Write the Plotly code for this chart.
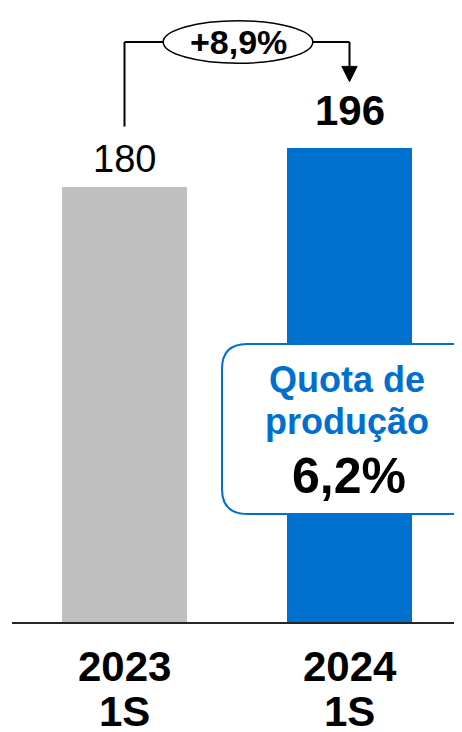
"""Quota de produção - 1S 2023 vs 1S 2024 bar chart."""

import plotly.graph_objects as go

years = ['2023', '2024']
periods = ['1S', '1S']
values = [180, 196]
value_labels = ['180', '196']
growth_label = '+8,9%'
box_title = ['Quota de', 'produção']
box_value = '6,2%'

FONT = 'Liberation Sans, Arial, sans-serif'
GREY = '#BFBFBF'
BLUE = '#0070CE'

# the page body adds an 8px margin, so the figure is drawn 8px smaller
OFF = 8
W, H = 462 - OFF, 732 - OFF
L, R, T, B = 4, 0, 0, 110
PXU = 2.4167                      # pixels per unit on the value axis
YMAX = (H - T - B) / PXU

x_idx = list(range(len(years)))
pw, ph = W - L - R, H - T - B


def px(x):
    # page pixel x -> paper x
    return (x - OFF - L) / pw


def py(y):
    # page pixel y -> paper y
    return (ph - (y - OFF - T)) / ph


def label(x, y, text, size, color='black', xref='paper'):
    fig.add_annotation(x=x, y=y, xref=xref, yref='paper', text=text,
                       showarrow=False, xanchor='center', yanchor='middle',
                       font=dict(family=FONT, size=size, color=color))


fig = go.Figure()
fig.add_trace(go.Bar(
    x=x_idx, y=values,
    marker_color=[GREY, BLUE], marker_line_width=0,
    width=0.556, showlegend=False, hoverinfo='skip'
))

# value labels above the bars
fig.add_annotation(x=0, y=values[0], text=value_labels[0], showarrow=False,
                   yanchor='bottom', yshift=5,
                   font=dict(family=FONT, size=38, color='black'))
fig.add_annotation(x=1, y=values[1], text='<b>' + value_labels[1] + '</b>', showarrow=False,
                   yanchor='bottom', yshift=12,
                   font=dict(family=FONT, size=42, color='black'))

# growth bracket
y_top = 240
fig.add_shape(type='line', x0=0, x1=0, y0=values[0] + 25, y1=y_top,
              line=dict(color='black', width=2))
fig.add_shape(type='line', x0=0, x1=0.172, y0=y_top, y1=y_top,
              line=dict(color='black', width=2))
fig.add_shape(type='line', x0=0.837, x1=1, y0=y_top, y1=y_top,
              line=dict(color='black', width=2))
fig.add_shape(type='line', x0=1, x1=1, y0=y_top, y1=values[1] + 31,
              line=dict(color='black', width=2))
tip = values[1] + 27.6
fig.add_shape(type='path',
              path=f'M 0.966,{tip + 6.3} L 1.034,{tip + 6.3} L 1,{tip} Z',
              fillcolor='black', line=dict(color='black', width=1))
fig.add_shape(type='circle', x0=0.172, x1=0.837, y0=231.2, y1=248.8,
              fillcolor='white', line=dict(color='black', width=1.5))
fig.add_annotation(x=0.505, y=y_top, text='<b>' + growth_label + '</b>', showarrow=False,
                   font=dict(family=FONT, size=34, color='black'))

# rounded info box
x0, x1, y0, y1, r = 222, 480, 344, 514, 25
rx, ry = r / pw, r / ph
path = (f'M {px(x0) + rx},{py(y0)} L {px(x1) - rx},{py(y0)} '
        f'Q {px(x1)},{py(y0)} {px(x1)},{py(y0) - ry} '
        f'L {px(x1)},{py(y1) + ry} Q {px(x1)},{py(y1)} {px(x1) - rx},{py(y1)} '
        f'L {px(x0) + rx},{py(y1)} Q {px(x0)},{py(y1)} {px(x0)},{py(y1) + ry} '
        f'L {px(x0)},{py(y0) - ry} Q {px(x0)},{py(y0)} {px(x0) + rx},{py(y0)} Z')
fig.add_shape(type='path', path=path, xref='paper', yref='paper',
              fillcolor='white', line=dict(color=BLUE, width=2))
for line, yc in zip(box_title, [379, 421]):
    label(px(347), py(yc), '<b>' + line + '</b>', 36, BLUE)
label(px(349), py(476), '<b>' + box_value + '</b>', 50)

# category labels (two lines each)
for i in x_idx:
    label(i, py(666), '<b>' + years[i] + '</b>', 42, xref='x')
    label(i, py(711), '<b>' + periods[i] + '</b>', 42, xref='x')

fig.update_layout(
    width=W, height=H,
    margin=dict(l=L, r=R, t=T, b=B),
    paper_bgcolor='white', plot_bgcolor='white',
    bargap=0,
    xaxis=dict(
        range=[-0.5, 1.5], tickvals=x_idx, showticklabels=False,
        showline=True, linecolor='#262626', linewidth=2,
        showgrid=False, zeroline=False, ticks='', fixedrange=True
    ),
    yaxis=dict(range=[0, YMAX], visible=False, fixedrange=True),
    showlegend=False
)

fig.write_html("out.html")
